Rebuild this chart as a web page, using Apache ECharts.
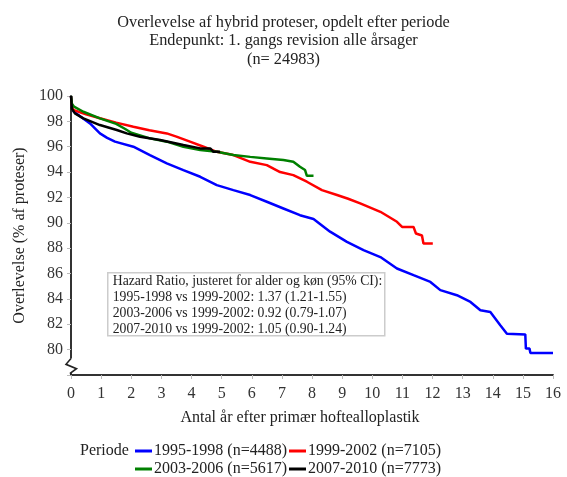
<!DOCTYPE html>
<html>
<head>
<meta charset="utf-8">
<script src="https://cdn.jsdelivr.net/npm/echarts@6/dist/echarts.min.js"></script>
<style>
  html, body { margin: 0; padding: 0; background: #fff; }
  #chart { width: 567px; height: 477px; }
</style>
</head>
<body>
<div id="chart"></div>
<script>
// Kaplan-Meier survival per period: [years since surgery, survival %]
const period1995 = [[0,100],[0.03,99.2],[0.08,98.8],[0.3,98.4],[0.63,97.84],[0.96,97.05],[1.2,96.7],[1.46,96.4],[2.07,96.0],[2.62,95.34],[3.18,94.69],[3.73,94.16],[4.29,93.63],[4.84,92.97],[5.39,92.58],[5.95,92.19],[6.5,91.66],[7.05,91.13],[7.6,90.6],[8.05,90.3],[8.6,89.3],[9.16,88.5],[9.71,87.85],[10.27,87.3],[10.82,86.4],[11.37,85.87],[11.93,85.34],[12.26,84.69],[12.81,84.29],[13.26,83.76],[13.59,83.1],[13.92,82.97],[14.25,81.92],[14.47,81.26],[15.08,81.2],[15.1,80.08],[15.22,80.08],[15.25,79.74],[16.0,79.74]];
const period1999 = [[0,100],[0.03,99.2],[0.08,98.9],[0.5,98.55],[0.96,98.24],[1.5,97.9],[2.07,97.58],[2.6,97.3],[3.18,97.05],[3.5,96.8],[3.95,96.4],[4.4,96.0],[4.84,95.6],[5.39,95.34],[5.95,94.81],[6.5,94.55],[6.94,94.0],[7.38,93.76],[7.83,93.24],[8.33,92.58],[8.83,92.19],[9.2,91.9],[9.6,91.53],[10.27,90.87],[10.82,90.08],[10.99,89.68],[11.37,89.68],[11.45,89.16],[11.65,89.0],[11.7,88.37],[12.01,88.37]];
const period2003 = [[0,100],[0.03,99.4],[0.1,99.16],[0.41,98.76],[0.96,98.24],[1.5,97.8],[1.8,97.4],[2.0,97.1],[2.62,96.66],[3.18,96.4],[3.73,96.0],[4.29,95.74],[4.84,95.6],[5.39,95.34],[5.95,95.2],[6.5,95.08],[7.05,94.95],[7.38,94.82],[7.6,94.42],[7.77,94.16],[7.83,93.71],[8.05,93.71]];
const period2007 = [[0,100],[0.03,99.0],[0.13,98.63],[0.41,98.24],[0.96,97.71],[1.52,97.32],[1.85,97.05],[2.29,96.79],[2.96,96.53],[3.73,96.13],[4.29,95.87],[4.62,95.87],[4.73,95.6],[4.95,95.6]];

const seriesNames = ['1995-1998 (n=4488)', '1999-2002 (n=7105)', '2003-2006 (n=5617)', '2007-2010 (n=7773)'];
const seriesData = [period1995, period1999, period2003, period2007];
const seriesColors = ['#0000ff', '#ff0000', '#008000', '#000000'];

const titleLines = ['Overlevelse af hybrid proteser, opdelt efter periode', 'Endepunkt: 1. gangs revision alle årsager', '(n= 24983)'];
const hazardLines = [
  'Hazard Ratio, justeret for alder og køn (95% CI):',
  '1995-1998 vs 1999-2002: 1.37 (1.21-1.55)',
  '2003-2006 vs 1999-2002: 0.92 (0.79-1.07)',
  '2007-2010 vs 1999-2002: 1.05 (0.90-1.24)'
];

const SERIF = "'Liberation Serif', 'Times New Roman', serif";
const chart = echarts.init(document.getElementById('chart'), null, { renderer: 'canvas' });

const legendStyle = {
  icon: 'rect', itemWidth: 17, itemHeight: 3, itemGap: 2, selectedMode: false,
  textStyle: { fontFamily: SERIF, fontSize: 16, color: '#222', padding: [0, 0, 0, -3] },
  left: 135, padding: 0
};

chart.setOption({
  animation: false,
  backgroundColor: '#ffffff',
  title: {
    text: titleLines.join('\n'),
    left: 'center', top: 8,
    textStyle: { fontFamily: SERIF, fontSize: 16.3, fontWeight: 'normal', color: '#222', lineHeight: 18.5 }
  },
  legend: [
    Object.assign({ data: seriesNames.slice(0, 2), top: 443 }, legendStyle),
    Object.assign({ data: seriesNames.slice(2, 4), top: 461 }, legendStyle)
  ],
  grid: { left: 71, right: 14, top: 96, bottom: 102 },
  xAxis: {
    type: 'value', min: 0, max: 16, interval: 1,
    name: 'Antal år efter primær hoftealloplastik',
    nameLocation: 'middle', nameGap: 35,
    nameTextStyle: { fontFamily: SERIF, fontSize: 16, color: '#222', padding: [0, 24, 0, 0] },
    axisLine: { lineStyle: { color: '#333', width: 2 } },
    axisTick: { length: 4, lineStyle: { color: '#bbb' } },
    axisLabel: { fontFamily: SERIF, fontSize: 16, color: '#333', margin: 11 },
    splitLine: { show: false }
  },
  yAxis: {
    type: 'value', min: 78, max: 100, interval: 2,
    name: 'Overlevelse (% af proteser)',
    nameLocation: 'middle', nameGap: 39,
    nameTextStyle: { fontFamily: SERIF, fontSize: 16, color: '#222' },
    axisLine: { show: true, lineStyle: { color: '#333', width: 2 } },
    axisTick: { show: true, length: 4, lineStyle: { color: '#bbb' } },
    axisLabel: {
      fontFamily: SERIF, fontSize: 16, color: '#333', margin: 8,
      formatter: v => (v === 78 ? '' : String(v))
    },
    splitLine: { show: false }
  },
  series: seriesNames.map((name, i) => ({
    name, type: 'line', data: seriesData[i], showSymbol: false, symbol: 'none',
    color: seriesColors[i],
    lineStyle: { color: seriesColors[i], width: 2.5 },
    z: 2 + i
  }))
});

// Axis break marker on the y axis and the hazard-ratio note
const axisX = chart.convertToPixel({ xAxisIndex: 0 }, 0);
const yTop = chart.convertToPixel({ yAxisIndex: 0 }, 79.3);
const yBot = chart.convertToPixel({ yAxisIndex: 0 }, 78.15);
const h = yBot - yTop;

chart.setOption({
  graphic: [
    {
      type: 'rect', z: 10,
      shape: { x: axisX - 2, y: yTop, width: 4, height: h },
      style: { fill: '#fff' }
    },
    {
      type: 'polyline', z: 11,
      shape: { points: [[axisX, yTop], [axisX - 5, yTop + h * 0.4], [axisX + 5.5, yTop + h * 0.7], [axisX - 0.5, yBot], [axisX, yBot + 2]] },
      style: { stroke: '#222', lineWidth: 1.6, fill: null }
    },
    {
      type: 'group', left: 107, top: 272, z: 20,
      children: [
        {
          type: 'rect',
          shape: { x: 0, y: 0, width: 277, height: 63 },
          style: { fill: '#fff', stroke: '#ccc', lineWidth: 1.5 }
        },
        {
          type: 'text', x: 5, y: 1,
          style: {
            text: hazardLines.join('\n'),
            font: "13.7px 'Liberation Serif', 'Times New Roman', serif",
            fill: '#222', lineHeight: 16
          }
        }
      ]
    },
    {
      type: 'text', left: 80, top: 443, z: 20,
      style: { text: 'Periode', font: "16px 'Liberation Serif', 'Times New Roman', serif", fill: '#222' }
    }
  ]
});
</script>
</body>
</html>
